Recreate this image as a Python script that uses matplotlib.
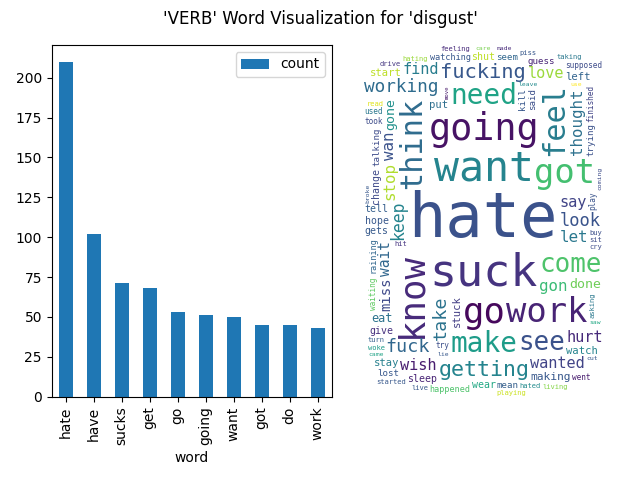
import numpy as np
import pandas as pd
import matplotlib
matplotlib.use("Agg")
import matplotlib.pyplot as plt
from matplotlib.font_manager import FontProperties

# Top verbs (bar chart)
top_words = ["hate", "have", "sucks", "get", "go", "going", "want", "got", "do", "work"]
top_counts = [210, 102, 71, 68, 53, 51, 50, 45, 45, 43]

# Word cloud words and their relative weight (0-100)
cloud_words = [
    "hate", "suck", "want", "going", "know", "go", "work", "got", "think", "feel",
    "make", "need", "come", "see", "getting", "fucking", "take", "fuck", "working", "look",
    "keep", "gon", "stop", "let", "wan", "thought", "wanted", "say", "wish", "love",
    "find", "hurt", "wait", "miss", "done", "gone", "eat", "making", "stuck", "watch",
    "stay", "put", "left", "start", "sleep", "hope", "gets", "tell", "give", "change",
    "shut", "wear", "guess", "lost", "seem", "talking", "mean", "trying", "kill", "said",
    "raining", "watching", "happened", "supposed", "play", "waiting", "finished", "try", "took", "went",
    "used", "hated", "hit", "buy", "sit", "turn", "asking", "hating", "drive", "woke",
    "started", "cry", "read", "piss", "living", "playing", "taking", "live", "feeling", "leave",
    "broke", "lie", "came", "coming", "use", "made", "saw", "care", "cut", "move",
]
cloud_weights = [
    100, 70, 64, 56, 54, 54, 51, 51, 45, 45,
    41, 41, 38, 38, 31, 29, 26, 26, 25, 24,
    23, 22, 22, 22, 22, 22, 21, 21, 21, 21,
    21, 21, 20, 19, 18, 18, 16, 15, 14, 14,
    14, 14, 14, 14, 13, 13, 13, 13, 13, 13,
    13, 13, 12, 12, 12, 12, 12, 12, 12, 12,
    11, 11, 11, 10, 10, 10, 10, 10, 10, 10,
    10, 9, 9, 9, 9, 9, 9, 9, 9, 9,
    9, 9, 9, 9, 9, 9, 9, 9, 9, 8,
    8, 8, 8, 8, 8, 8, 8, 8, 8, 7,
]

# styling for the cloud: vertical words and viridis shade per word
vertical_words = {
    "think", "know", "feel", "take", "keep", "stop", "wan", "thought", "wait", "miss",
    "gone", "stuck", "change", "talking", "trying", "kill", "said", "raining", "play",
    "waiting", "finished", "asking", "broke", "coming", "move",
}
word_shades = {
    "hate": 0.25, "suck": 0.15, "want": 0.45, "going": 0.05, "know": 0.12, "go": 0.02,
    "work": 0.10, "got": 0.70, "think": 0.35, "feel": 0.42, "make": 0.55, "need": 0.58,
    "come": 0.72, "see": 0.25, "getting": 0.45, "fucking": 0.27, "take": 0.38, "fuck": 0.33,
    "working": 0.35, "look": 0.26, "keep": 0.45, "gon": 0.68, "stop": 0.88, "let": 0.40,
    "wan": 0.25, "thought": 0.37, "wanted": 0.20, "say": 0.20, "wish": 0.08, "love": 0.85,
    "find": 0.42, "hurt": 0.12, "wait": 0.33, "miss": 0.22, "done": 0.78, "gone": 0.50,
    "eat": 0.38, "making": 0.27, "stuck": 0.18, "watch": 0.45, "stay": 0.43, "put": 0.36,
    "left": 0.32, "start": 0.90, "sleep": 0.10, "hope": 0.27, "gets": 0.28, "tell": 0.30,
    "give": 0.14, "change": 0.22, "shut": 0.90, "wear": 0.60, "guess": 0.10, "lost": 0.27,
    "seem": 0.33, "talking": 0.23, "mean": 0.30, "trying": 0.25, "kill": 0.27, "said": 0.24,
    "raining": 0.33, "watching": 0.27, "happened": 0.72, "supposed": 0.23, "play": 0.26,
    "waiting": 0.75, "finished": 0.20, "try": 0.24, "took": 0.23, "went": 0.08, "used": 0.40,
    "hated": 0.48, "hit": 0.15, "buy": 0.24, "sit": 0.23, "turn": 0.30, "asking": 0.40,
    "hating": 0.85, "drive": 0.16, "woke": 0.55, "started": 0.27, "cry": 0.23, "read": 0.95,
    "piss": 0.27, "living": 0.82, "playing": 0.92, "taking": 0.40, "live": 0.27,
    "feeling": 0.12, "leave": 0.48, "broke": 0.27, "lie": 0.27, "came": 0.58, "coming": 0.23,
    "use": 1.00, "made": 0.12, "saw": 0.60, "care": 0.80, "cut": 0.27, "move": 0.07,
}

CLOUD_W, CLOUD_H = 240, 352   # cloud canvas in display pixels
MAX_FONT_PX = 62
SIZE_POWER = 0.9
mono = FontProperties(family="DejaVu Sans Mono")
cmap = plt.get_cmap("viridis")

fig = plt.figure(figsize=(6.4, 4.8), dpi=100)
fig.suptitle("'VERB' Word Visualization for 'disgust'")

# left: bar chart
ax1 = fig.add_axes([51.7 / 640, 1 - 396.7 / 480, 280 / 640, 351.7 / 480])
df = pd.DataFrame({"word": top_words, "count": top_counts}).set_index("word")
df.plot(kind="bar", ax=ax1)

# right: word cloud, one data unit = one pixel
ax2 = fig.add_axes([364 / 640, 1 - 397 / 480, CLOUD_W / 640, CLOUD_H / 480])
ax2.set_xlim(0, CLOUD_W)
ax2.set_ylim(CLOUD_H, 0)
ax2.axis("off")
renderer = fig.canvas.get_renderer()


def word_box(word, size, vertical):
    """Text box of a word relative to its anchor, in pixels with y going down."""
    t = ax2.text(0, 0, word, fontproperties=mono, fontsize=size * 72 / fig.dpi,
                 rotation=90 if vertical else 0, rotation_mode="anchor",
                 ha="left", va="baseline")
    bb = t.get_window_extent(renderer)
    ax_x, ax_y = ax2.transData.transform((0, 0))
    t.remove()
    return bb.x0 - ax_x, ax_y - bb.y1, bb.width, bb.height


def layout_cloud(words, weights, width, height):
    """Greedy placement: biggest words first, each as close to the centre as it fits."""
    taken = np.zeros((height, width), dtype=bool)
    placed = []
    order = sorted(range(len(words)), key=lambda k: -weights[k])
    top = max(weights)
    for i in order:
        word = words[i]
        vertical = word in vertical_words
        size = MAX_FONT_PX * (weights[i] / top) ** SIZE_POWER
        while size >= 2.5:
            left, up, bw_f, bh_f = word_box(word, size, vertical)
            bw = int(np.ceil(bw_f)) + 1
            bh = int(np.ceil(bh_f)) + 1
            if bw < width and bh < height:
                integ = np.zeros((height + 1, width + 1))
                integ[1:, 1:] = taken.cumsum(0).cumsum(1)
                win = integ[bh:, bw:] - integ[:-bh, bw:] - integ[bh:, :-bw] + integ[:-bh, :-bw]
                free = win == 0
                if free.any():
                    ny, nx = free.shape
                    dy = np.abs(np.arange(ny)[:, None] + bh / 2 - height / 2) / height
                    dx = np.abs(np.arange(nx)[None, :] + bw / 2 - width / 2) / width
                    dist = np.maximum(dx, dy) + 0.3 * np.hypot(dx, dy)
                    dist = np.where(free, dist, np.inf)
                    py, px = np.unravel_index(np.argmin(dist), dist.shape)
                    taken[py:py + bh, px:px + bw] = True
                    placed.append((word, size, vertical, px + 0.5 - left, py + 0.5 - up))
                    break
            size -= 0.5
    return placed


for word, size, vertical, ox, oy in layout_cloud(cloud_words, cloud_weights, CLOUD_W, CLOUD_H):
    ax2.text(ox, oy, word, fontproperties=mono, fontsize=size * 72 / fig.dpi,
             color=cmap(word_shades.get(word, 0.3)), rotation=90 if vertical else 0,
             rotation_mode="anchor", ha="left", va="baseline")

fig.savefig("out.png", dpi=100)
